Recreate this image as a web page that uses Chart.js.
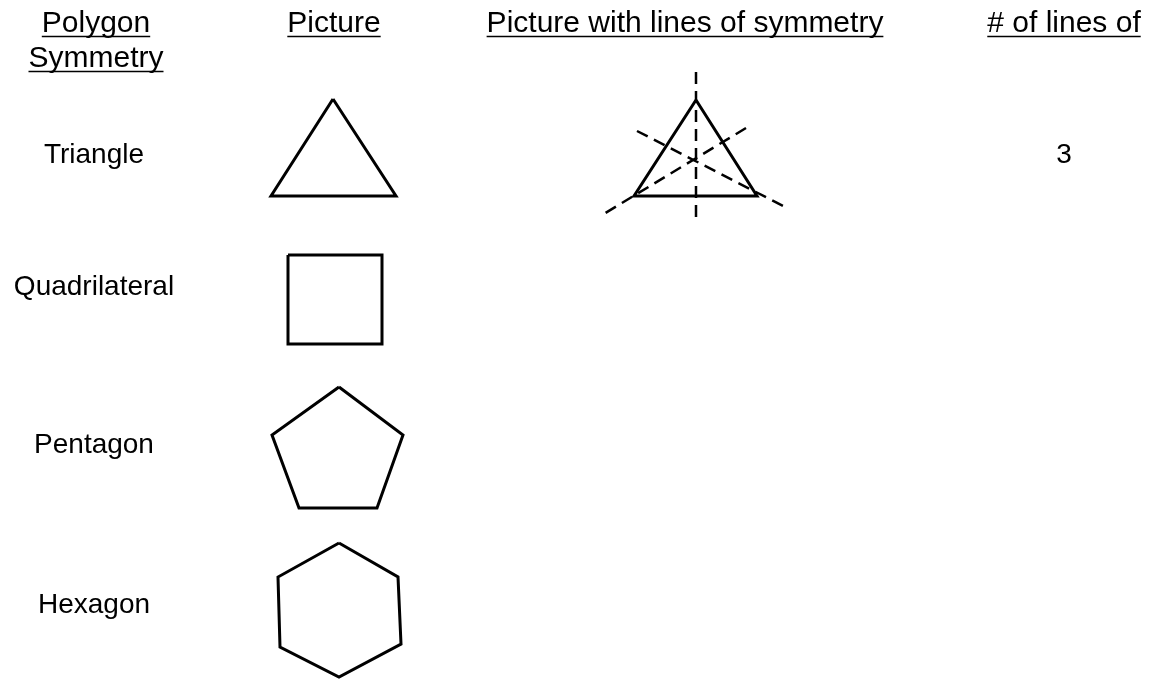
<!DOCTYPE html>
<html>
<head>
<meta charset="utf-8">
<script src="https://cdn.jsdelivr.net/npm/chart.js@4/dist/chart.umd.min.js"></script>
<style>
  html, body { margin: 0; padding: 0; background: #fff; }
  #wrap { width: 1151px; height: 679px; }
</style>
</head>
<body>
<div id="wrap"><canvas id="chart"></canvas></div>
<script>
// column headers and row labels
const headers = ['Polygon', 'Picture', 'Picture with lines of symmetry', '# of lines of'];
const headerSecondLine = ['Symmetry', '', '', ''];
const polygonNames = ['Triangle', 'Quadrilateral', 'Pentagon', 'Hexagon'];
const symmetryCounts = ['3', '', '', ''];

// shape vertices (page units)
const triangle = [[333, 99], [396, 196], [271, 196]];
const quadrilateral = [[288, 255], [382, 255], [382, 344], [288, 344]];
const pentagon = [[339, 387], [403, 435], [377, 508], [299, 508], [272, 435]];
const hexagon = [[339, 543], [398, 577], [401, 644], [339, 677], [280, 647], [278, 577]];
const triangleCopy = [[696, 100], [757, 196], [634, 196]];

// dashed lines of symmetry on the copy
const symmetryLines = [
  [[696, 72], [696, 222]],
  [[637, 131], [787, 208]],
  [[746, 128], [602, 215]]
];

// where the text columns / rows sit
const headerCenters = [96, 334, 685, 1064];
const headerBaselines = [32, 67];
const labelCenter = 94;
const countCenter = 1064;
const rowBaselines = [163, 295, 453, 613];

const HEADER_FONT = '30px "Liberation Sans", Arial, sans-serif';
const LABEL_FONT = '28px "Liberation Sans", Arial, sans-serif';

function closed(pts) {
  return pts.concat([pts[0]]).map(p => ({ x: p[0], y: p[1] }));
}
function open(pts) {
  return pts.map(p => ({ x: p[0], y: p[1] }));
}

const datasets = [];
[triangle, quadrilateral, pentagon, hexagon, triangleCopy].forEach(shape => {
  datasets.push({
    data: closed(shape),
    showLine: true,
    borderColor: '#000',
    borderWidth: 3,
    pointRadius: 0,
    borderJoinStyle: 'miter',
    tension: 0
  });
});
symmetryLines.forEach(seg => {
  datasets.push({
    data: open(seg),
    showLine: true,
    borderColor: '#000',
    borderWidth: 2.5,
    borderDash: [12, 7],
    pointRadius: 0,
    tension: 0
  });
});

const textPlugin = {
  id: 'worksheetText',
  beforeDraw(chart) {
    const ctx = chart.ctx;
    ctx.save();
    ctx.fillStyle = '#fff';
    ctx.fillRect(0, 0, chart.width, chart.height);
    ctx.restore();
  },
  afterDraw(chart) {
    const ctx = chart.ctx;
    const xs = chart.scales.x, ys = chart.scales.y;
    ctx.save();
    ctx.fillStyle = '#000';
    ctx.strokeStyle = '#000';
    ctx.textAlign = 'center';
    ctx.textBaseline = 'alphabetic';

    function put(text, cx, base, font, underline) {
      if (!text) return;
      ctx.font = font;
      const px = xs.getPixelForValue(cx);
      const py = ys.getPixelForValue(base);
      ctx.fillText(text, px, py);
      if (underline) {
        const w = ctx.measureText(text).width;
        ctx.lineWidth = 1.5;
        ctx.beginPath();
        ctx.moveTo(px - w / 2, py + 4.5);
        ctx.lineTo(px + w / 2, py + 4.5);
        ctx.stroke();
      }
    }

    headers.forEach((h, i) => put(h, headerCenters[i], headerBaselines[0], HEADER_FONT, true));
    headerSecondLine.forEach((h, i) => put(h, headerCenters[i], headerBaselines[1], HEADER_FONT, true));
    polygonNames.forEach((n, i) => put(n, labelCenter, rowBaselines[i], LABEL_FONT, false));
    symmetryCounts.forEach((c, i) => put(c, countCenter, rowBaselines[i], LABEL_FONT, false));
    ctx.restore();
  }
};

new Chart(document.getElementById('chart'), {
  type: 'scatter',
  data: { datasets: datasets },
  options: {
    responsive: true,
    maintainAspectRatio: false,
    animation: false,
    events: [],
    layout: { padding: 0 },
    plugins: { legend: { display: false }, tooltip: { enabled: false } },
    scales: {
      x: { type: 'linear', min: 0, max: 1151, display: false },
      y: { type: 'linear', min: 0, max: 679, reverse: true, display: false }
    }
  },
  plugins: [textPlugin]
});
</script>
</body>
</html>
